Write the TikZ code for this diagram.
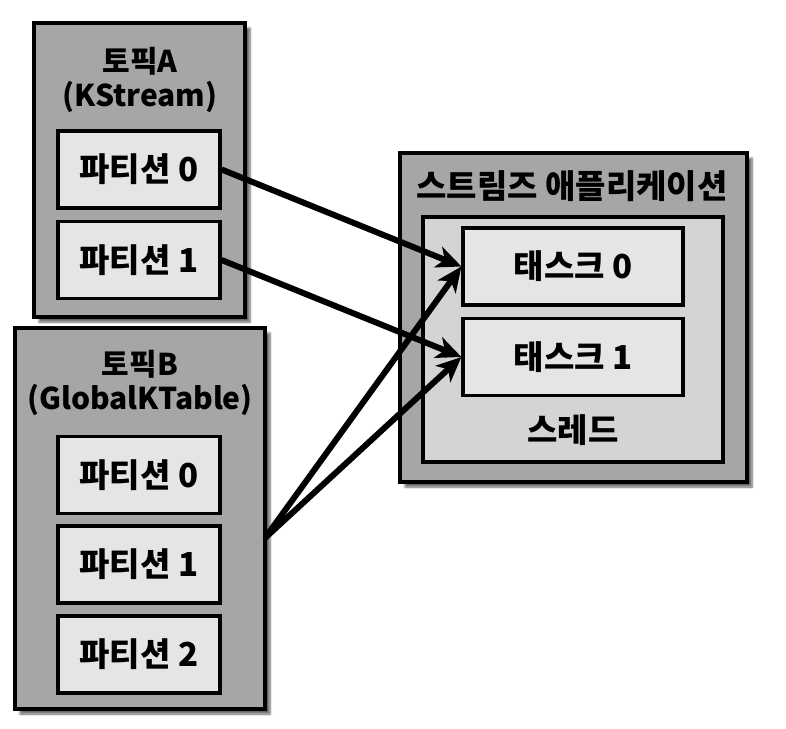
\documentclass[tikz,border=0pt]{standalone}
\usepackage{fontspec}
\setmainfont{Noto Sans CJK KR}
\usepackage{tikz}
\usetikzlibrary{arrows.meta,positioning,shadows.blur}

\begin{document}
\begin{tikzpicture}[
    x=1pt, y=-1pt,
    group/.style={rectangle, draw, line width=3.2pt, fill=black!35, blur shadow={shadow xshift=5pt, shadow yshift=-5pt, shadow blur steps=6, shadow opacity=60}},
    thread/.style={rectangle, draw, line width=3.2pt, fill=black!17},
    part/.style={rectangle, draw, line width=3.2pt, fill=black!10, minimum width=162pt, minimum height=77pt, font=\bfseries\fontsize{33}{34}\selectfont},
    title/.style={align=center, font=\bfseries\fontsize{33}{34}\selectfont},
    topictitle/.style={title, font=\bfseries\fontsize{30}{34}\selectfont},
    flow/.style={-{Stealth[length=25pt, width=22pt, inset=7pt]}, line width=6pt}
]
    \useasboundingbox (0,0) rectangle (786,728);

    % Topics
    \node[group, minimum width=211pt, minimum height=294pt] (topicA) at (139.5,170) {};
    \node[topictitle] (titleA) at (140,80) {토픽A\\(KStream)};
    \node[part] (a0) at (139,169.5) {파티션 0};
    \node[part] (a1) at (139,260) {파티션 1};

    \node[group, minimum width=250pt, minimum height=381pt] (topicB) at (140,518.5) {};
    \node[topictitle] (titleB) at (140,383) {토픽B\\(GlobalKTable)};
    \node[part] (b0) at (139,475) {파티션 0};
    \node[part] (b1) at (139,564.5) {파티션 1};
    \node[part] (b2) at (139,654.5) {파티션 2};

    % Streams application
    \node[group, minimum width=347pt, minimum height=329pt] (app) at (573.5,317.5) {};
    \node[title] (appname) at (572,186) {스트림즈 애플리케이션};
    \node[thread, minimum width=300pt, minimum height=245pt] (thr) at (573,339.5) {};
    \node[part, minimum width=220pt] (t0) at (573,266.5) {태스크 0};
    \node[part, minimum width=220pt] (t1) at (573,357) {태스크 1};
    \node[title] (thrname) at (573,430) {스레드};

    % Assignments
    \coordinate (bout) at (265,538);
    \draw[flow] (a0.east) -- (t0.west);
    \draw[flow] (a1.east) -- (t1.west);
    \draw[flow] (bout) -- (t0.west);
    \draw[flow] (bout) -- (t1.west);
\end{tikzpicture}
\end{document}
